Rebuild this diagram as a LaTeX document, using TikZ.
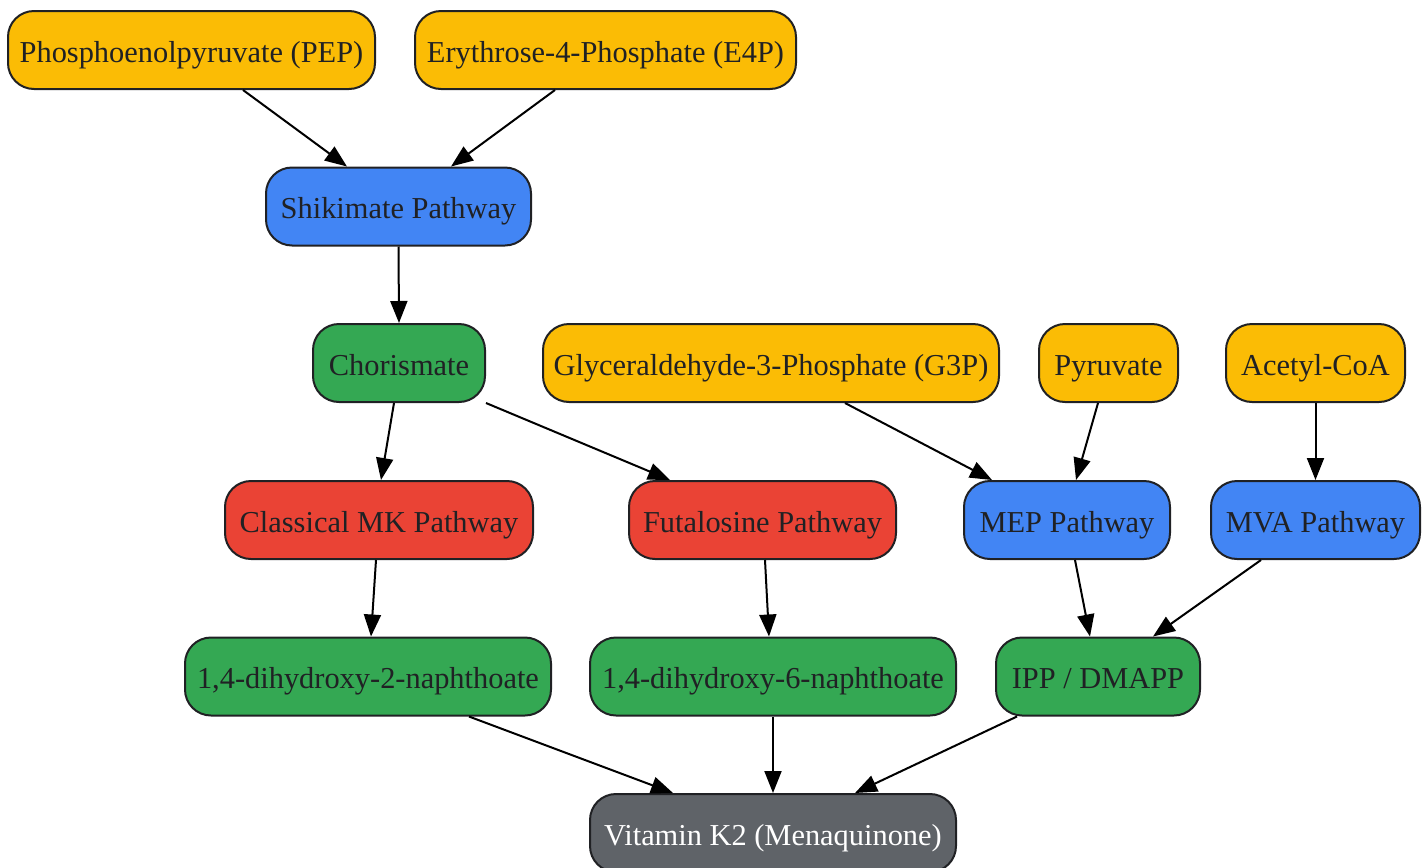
\documentclass[tikz,border=0pt]{standalone}
\usepackage{fontspec}
\setmainfont{Liberation Serif}
\usetikzlibrary{arrows.meta}
\definecolor{cyellow}{HTML}{FBBC05}
\definecolor{cblue}{HTML}{4285F4}
\definecolor{cgreen}{HTML}{34A853}
\definecolor{cred}{HTML}{EA4335}
\definecolor{cgray}{HTML}{5F6368}
\definecolor{cborder}{HTML}{202124}
\definecolor{ctext}{HTML}{202124}
\tikzset{
  box/.style={draw=cborder, line width=2pt, rounded corners=26pt, minimum height=78pt,
    inner sep=0pt, text height=27pt, text depth=3pt, text=ctext,
    font=\fontsize{30.4}{34}\selectfont, anchor=center},
  yel/.style={box, fill=cyellow},
  blu/.style={box, fill=cblue},
  grn/.style={box, fill=cgreen},
  rd/.style={box, fill=cred},
  gry/.style={box, fill=cgray, text=white},
  edge/.style={draw=black, line width=2pt, -{Triangle[length=22pt,width=17pt]}}
}
\begin{document}
\begin{tikzpicture}[x=1pt,y=-1pt]
\useasboundingbox (0,0) rectangle (1428,868);
\node[yel, minimum width=367pt] (pep) at (191.5,50) {Phosphoenolpyruvate (PEP)};
\node[yel, minimum width=381pt] (e4p) at (605.5,50) {Erythrose-4-Phosphate (E4P)};
\node[blu, minimum width=265pt] (shik) at (398.5,206.5) {Shikimate Pathway};
\node[grn, minimum width=172pt] (chor) at (399,363) {Chorismate};
\node[yel, minimum width=456pt] (g3p) at (771,363) {Glyceraldehyde-3-Phosphate (G3P)};
\node[yel, minimum width=139pt] (pyr) at (1108.5,363) {Pyruvate};
\node[yel, minimum width=179pt] (acc) at (1315.5,363) {Acetyl-CoA};
\node[rd, minimum width=308pt] (cmk) at (379,520) {Classical MK Pathway};
\node[rd, minimum width=267pt] (fut) at (762.5,520) {Futalosine Pathway};
\node[blu, minimum width=206pt] (mep) at (1067,520) {MEP Pathway};
\node[blu, minimum width=209pt] (mva) at (1315.5,520) {MVA Pathway};
\node[grn, minimum width=366pt] (dh2) at (368,676.5) {1,4-dihydroxy-2-naphthoate};
\node[grn, minimum width=366pt] (dh6) at (773,676.5) {1,4-dihydroxy-6-naphthoate};
\node[grn, minimum width=204pt] (ipp) at (1098,676.5) {IPP / DMAPP};
\node[gry, minimum width=366pt] (vk) at (773,833) {Vitamin K2 (Menaquinone)};

\draw[edge] ([xshift=51.5pt]pep.south) -- ([xshift=-51.5pt]shik.north);
\draw[edge] ([xshift=-50.5pt]e4p.south) -- ([xshift=52.5pt]shik.north);
\draw[edge] (shik.south) -- (chor.north);
\draw[edge] ([xshift=-5pt]chor.south) -- ([xshift=2pt]cmk.north);
\draw[edge] (chor.south east) -- ([xshift=-92.5pt]fut.north);
\draw[edge] ([xshift=74pt]g3p.south) -- ([xshift=-75pt]mep.north);
\draw[edge] ([xshift=-10.5pt]pyr.south) -- ([xshift=9pt]mep.north);
\draw[edge] (acc.south) -- (mva.north);
\draw[edge] ([xshift=-3pt]cmk.south) -- ([xshift=3pt]dh2.north);
\draw[edge] ([xshift=2.5pt]fut.south) -- ([xshift=-4pt]dh6.north);
\draw[edge] ([xshift=8pt]mep.south) -- ([xshift=-8pt]ipp.north);
\draw[edge] ([xshift=-54.5pt]mva.south) -- ([xshift=55pt]ipp.north);
\draw[edge] ([xshift=101pt]dh2.south) -- ([xshift=-100pt]vk.north);
\draw[edge] (dh6.south) -- (vk.north);
\draw[edge] ([xshift=-81pt]ipp.south) -- ([xshift=82pt]vk.north);
\end{tikzpicture}
\end{document}
